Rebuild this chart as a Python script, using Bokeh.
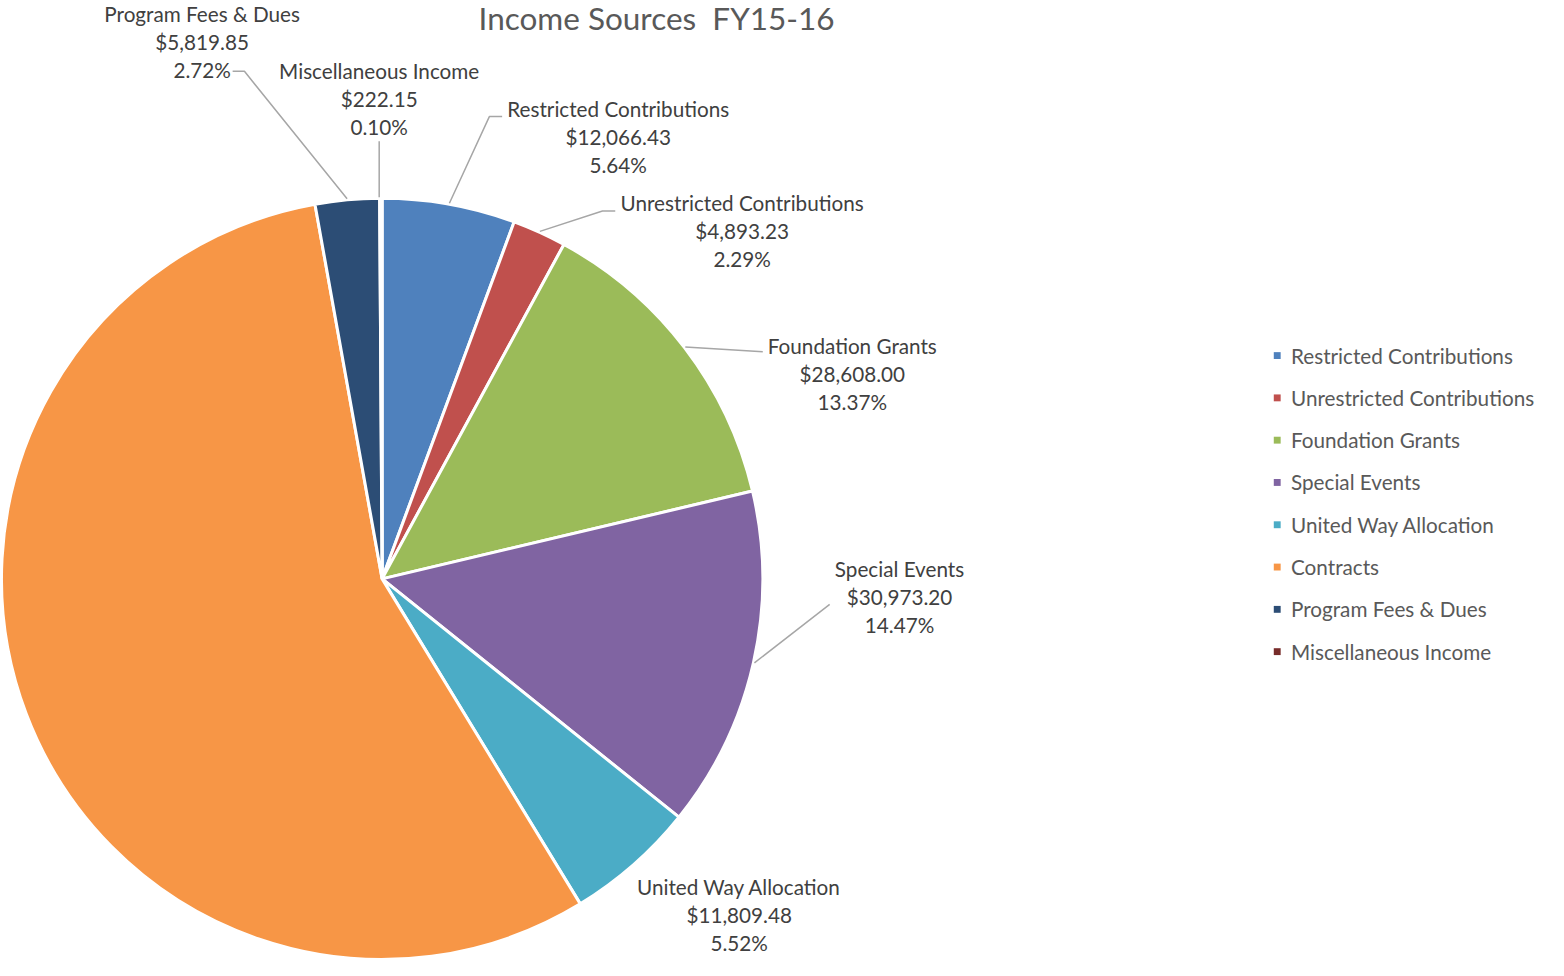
import math
from bokeh.plotting import figure
from bokeh.models import Range1d
from bokeh.core.properties import value
from bokeh.embed import file_html
from bokeh.resources import INLINE

# ---- data ----
categories = ["Restricted Contributions", "Unrestricted Contributions", "Foundation Grants",
              "Special Events", "United Way Allocation", "Contracts",
              "Program Fees & Dues", "Miscellaneous Income"]
amounts = [12066.43, 4893.23, 28608.00, 30973.20, 11809.48, 119600.00, 5819.85, 222.15]
show_label = [True, True, True, True, True, False, True, True]
colors = ["#4F81BD", "#C0504D", "#9BBB59", "#8064A2", "#4BACC6", "#F79646", "#2C4D75", "#772C2A"]

W, H = 1548, 960
REF_H = 976.0
S = H / REF_H          # pixels per layout unit
FONT = "Lato"

def fs(px):
    return "{:.1f}px".format(px * S)

p = figure(width=W, height=H, output_backend="svg", toolbar_location=None,
           x_range=Range1d(0, W / S), y_range=Range1d(0, REF_H),
           min_border=0, outline_line_color=None)
p.axis.visible = False
p.grid.visible = False
p.background_fill_color = "white"

def Y(ref_y):
    return REF_H - ref_y

cx, cy, R = 388, Y(588), 387

total = sum(amounts)
starts, ends, mids = [], [], []
acc = 0.0
for a in amounts:
    s = math.pi / 2 - 2 * math.pi * acc / total
    acc += a
    e = math.pi / 2 - 2 * math.pi * acc / total
    starts.append(s); ends.append(e); mids.append((s + e) / 2)

p.wedge(x=[cx] * len(amounts), y=[cy] * len(amounts), radius=R,
        start_angle=starts, end_angle=ends, direction="clock",
        fill_color=colors, line_color="white", line_width=3)

# ---- labels (layout: text centre x, first line y, leader elbow, leader tail) ----
label_pos = {
    "Restricted Contributions": (628, 110, (497, 118), (510, 118)),
    "Unrestricted Contributions": (754, 206, (612, 214), (625, 214)),
    "Foundation Grants": (866, 351, (775, 357), None),
    "Special Events": (914, 578, (843, 614), None),
    "United Way Allocation": (751, 901, None, None),
    "Program Fees & Dues": (205, 14, (248, 72), (236, 72)),
    "Miscellaneous Income": (385, 72, (385, 143), None),
}

tx, ty, tt = [], [], []
for i, c in enumerate(categories):
    if not show_label[i]:
        continue
    pct = 100 * amounts[i] / total
    lines = [c, "${:,.2f}".format(amounts[i]), "{:.2f}%".format(pct)]
    x0, y0, elbow, tail = label_pos[c]
    for k, ln in enumerate(lines):
        tx.append(x0); ty.append(Y(y0 + 28.5 * k)); tt.append(ln)
    if elbow is not None:
        m = mids[i]
        sx = cx + (R + 1) * math.cos(m)
        sy = cy + (R + 1) * math.sin(m)
        if c == "Miscellaneous Income":
            sx = elbow[0]
        xs = [sx, elbow[0]]
        ys = [sy, Y(elbow[1])]
        if tail is not None:
            xs.append(tail[0]); ys.append(Y(tail[1]))
        p.line(xs, ys, line_color="#A6A6A6", line_width=1.5)

p.text(x=tx, y=ty, text=tt, text_align="center", text_baseline="middle",
       text_font=value(FONT), text_font_size=fs(21), text_color="#404040")

# ---- title ----
p.text(x=[667], y=[Y(18)], text=["Income Sources \u00a0FY15-16"], text_align="center",
       text_baseline="middle", text_font=value(FONT), text_font_size=fs(32),
       text_color="#595959")

# ---- legend ----
leg_y = [Y(361 + 43 * i) for i in range(len(categories))]
p.rect(x=[1298] * len(categories), y=leg_y, width=7, height=7,
       fill_color=colors, line_color=None)
p.text(x=[1312] * len(categories), y=leg_y, text=categories, text_align="left",
       text_baseline="middle", text_font=value(FONT), text_font_size=fs(21),
       text_color="#595959")

open("out.html", "w").write(file_html(p, INLINE))
